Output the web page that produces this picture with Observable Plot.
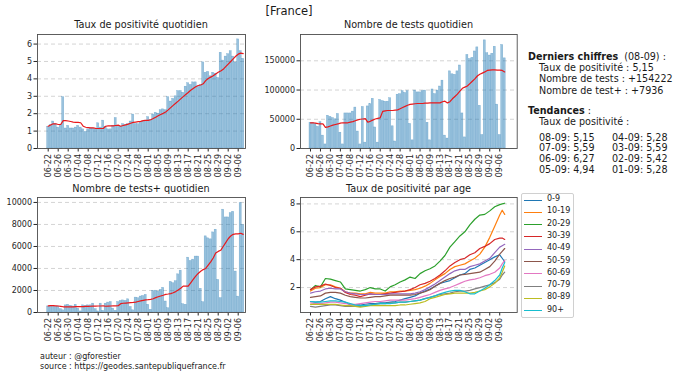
<!DOCTYPE html>
<html><head><meta charset="utf-8">
<script src="https://cdn.jsdelivr.net/npm/d3@7"></script>
<script src="https://cdn.jsdelivr.net/npm/@observablehq/plot@0.6"></script>
<style>
body{margin:0;background:#fff;}
#root{position:relative;width:680px;height:377px;font-family:"DejaVu Sans",sans-serif;color:#1a1a1a;overflow:hidden;background:#fff}
.t{position:absolute;white-space:nowrap;line-height:1}
.ttl{position:absolute;text-align:center;font-size:9.7px;line-height:1;white-space:nowrap}
.blk{font-size:9.6px}
.leg{position:absolute;left:521px;top:193px;width:51px;height:123px;border:1px solid #d0d0d0;border-radius:2px;background:#fff}
.leg .sw{position:absolute;left:2px;width:18px;height:0;border-top:1.4px solid}
.leg .lb{position:absolute;left:25px;font-size:8px;line-height:1}
</style></head><body><div id="root"></div>
<script>
const dates = ["06-22","06-23","06-24","06-25","06-26","06-27","06-28","06-29","06-30",
"07-01","07-02","07-03","07-04","07-05","07-06","07-07","07-08","07-09","07-10",
"07-11","07-12","07-13","07-14","07-15","07-16","07-17","07-18","07-19","07-20",
"07-21","07-22","07-23","07-24","07-25","07-26","07-27","07-28","07-29","07-30","07-31",
"08-01","08-02","08-03","08-04","08-05","08-06","08-07","08-08","08-09","08-10",
"08-11","08-12","08-13","08-14","08-15","08-16","08-17","08-18","08-19","08-20",
"08-21","08-22","08-23","08-24","08-25","08-26","08-27","08-28","08-29","08-30","08-31",
"09-01","09-02","09-03","09-04","09-05","09-06","09-07","09-08"];
const xTicks = ["06-22","06-26","06-30","07-04","07-08","07-12","07-16","07-20","07-24","07-28",
"08-01","08-05","08-09","08-13","08-17","08-21","08-25","08-29","09-02","09-06"];

// Taux de positivité quotidien (%)
const positivite = [1.25,1.35,1.55,1.4,1.2,1.35,2.95,1.15,1.3,
1.15,1.15,1.2,1.3,1.2,1.1,0.95,1.1,1.15,1.15,
1.1,1.45,1.2,1.6,1.25,1.1,1.1,1.3,1.75,1.3,
1.25,1.4,1.35,1.4,1.55,1.95,1.4,1.4,1.5,1.55,1.6,
1.8,1.65,1.95,2.05,2.0,2.2,2.25,2.2,2.95,2.7,
2.85,3.0,3.3,3.3,3.2,3.55,3.75,3.65,3.8,3.8,
3.55,3.65,4.95,4.35,4.4,4.15,4.35,4.3,4.05,5.5,5.05,
5.28,5.42,5.59,5.28,4.94,6.27,5.59,5.15];
const positiviteMoy = [1.28,1.35,1.42,1.42,1.38,1.38,1.6,1.6,1.58,
1.55,1.52,1.5,1.5,1.48,1.28,1.22,1.2,1.18,1.18,
1.16,1.15,1.15,1.15,1.28,1.3,1.3,1.3,1.32,1.34,
1.28,1.32,1.36,1.4,1.45,1.5,1.52,1.54,1.56,1.6,1.62,
1.62,1.65,1.72,1.8,1.88,1.95,2.02,2.1,2.22,2.35,
2.48,2.6,2.72,2.85,2.98,3.1,3.22,3.35,3.45,3.55,
3.62,3.65,3.72,3.9,4.02,4.1,4.18,4.28,4.38,4.45,4.55,
4.7,4.85,5.0,5.15,5.3,5.42,5.48,5.45];

// Nombre de tests quotidien
const tests = [44000,44000,42000,37000,45000,22000,7000,56000,54000,
52000,50000,59000,27000,7000,60000,60000,60000,63000,70000,
29000,7000,71000,10000,72000,76000,85000,36000,10000,83000,
81000,80000,80000,86000,38000,12000,92000,93000,98000,95000,98000,
42000,14000,99000,96000,96000,98000,99000,44000,14000,101000,
93000,99000,106000,116000,22000,17000,132000,127000,126000,132000,
142000,60000,19000,160000,153000,155000,166000,173000,73000,23000,185000,
163000,159000,162000,174000,75000,23000,177000,154222];
const testsMoy = [44000,44000,43500,42500,42000,42000,36000,37000,38500,
40000,41000,42000,43500,44000,44000,44000,45000,46000,47500,
49000,50000,50500,51000,45000,46500,48500,50500,51500,52500,
63500,64500,65000,65000,65000,65500,66000,68000,70000,72000,74000,
75500,76000,76500,77000,77000,77000,77500,77500,78000,78000,
78000,78000,78000,80000,81000,78000,80000,85000,89000,93000,
98000,103000,105000,107000,111000,115000,119000,124000,127000,129000,131000,
133500,134000,134500,134500,134000,134000,133500,131000];

// Nombre de tests+ quotidien
const positifs = [550,600,600,500,550,300,200,650,700,
600,550,700,350,100,650,600,650,650,800,
300,100,800,150,800,900,950,350,150,950,
1050,1100,1050,1200,500,200,1350,1300,1450,1500,1600,
700,240,1960,1980,1900,2050,2240,1000,390,2780,
2660,2840,3470,3800,750,700,4980,4680,4800,5080,
5080,2150,940,6920,6740,6650,7280,7520,2960,1300,9340,
8640,8640,9030,9150,3720,1440,9940,7936];
const positifsMoy = [600,620,630,610,590,560,520,520,520,
520,520,530,540,540,540,550,560,570,580,
580,590,590,600,570,580,590,600,610,620,
800,840,860,880,900,920,950,1000,1050,1100,1150,
1170,1200,1250,1350,1430,1500,1570,1650,1680,1720,
1800,1900,2050,2200,2400,2400,2400,2700,3000,3300,
3550,3750,3900,4000,4300,4600,4950,5400,5550,5650,6000,
6350,6700,6950,7100,7150,7150,7200,7100];

// Taux de positivité par age
const ages = ["0-9","10-19","20-29","30-39","40-49","50-59","60-69","70-79","80-89","90+"];
const ageColors = ["#1f77b4","#ff7f0e","#2ca02c","#d62728","#9467bd","#8c564b","#e377c2","#7f7f7f","#bcbd22","#17becf"];
const ageDates = ["06-22","06-24","06-26","06-28","06-30","07-02","07-04","07-06","07-08","07-10",
"07-12","07-14","07-16","07-18","07-20","07-22","07-24","07-26","07-28","07-30",
"08-01","08-03","08-05","08-07","08-09","08-11","08-13","08-15","08-17","08-19",
"08-21","08-23","08-25","08-27","08-29","08-31","09-02","09-04","09-06","09-07","09-08"];
const age0_9 = [1.0,0.95,1.0,1.2,1.35,1.2,1.1,0.95,0.75,0.75,0.75,0.8,0.85,0.85,0.9,0.9,0.95,1.0,1.1,1.2,1.3,1.4,1.6,1.75,1.9,2.1,2.3,2.4,2.5,2.7,2.9,3.0,3.3,3.4,3.6,3.8,4.0,4.2,4.35,4.1,3.85];
const age10_19 = [1.75,1.95,2.0,2.2,2.2,2.05,1.95,1.7,1.6,1.6,1.55,1.55,1.65,1.6,1.6,1.6,1.7,1.7,1.75,1.75,1.8,1.85,1.95,2.1,2.3,2.55,2.8,3.0,3.3,3.5,3.6,3.7,3.9,4.1,4.4,4.9,5.6,6.4,7.2,7.55,7.25];
const age20_29 = [1.85,2.15,2.05,2.65,2.6,2.5,2.4,1.9,1.85,1.8,1.75,1.85,2.0,1.9,1.9,1.75,2.05,2.2,2.4,2.55,2.75,2.65,3.0,3.2,3.35,3.55,3.9,4.3,4.9,5.3,5.7,6.0,6.5,6.9,7.2,7.25,7.5,7.8,7.95,8.0,8.05];
const age30_39 = [1.85,2.05,2.1,2.25,2.15,2.0,1.95,1.65,1.5,1.45,1.35,1.45,1.55,1.5,1.5,1.55,1.6,1.65,1.7,1.75,1.85,2.0,2.2,2.3,2.45,2.65,2.9,3.2,3.55,3.8,4.0,4.1,4.35,4.5,4.8,4.95,5.15,5.45,5.55,5.55,5.45];
const age40_49 = [1.6,1.7,1.75,1.9,1.95,1.9,1.9,1.7,1.6,1.55,1.5,1.5,1.55,1.5,1.5,1.5,1.55,1.55,1.55,1.55,1.55,1.6,1.7,1.85,2.05,2.25,2.5,2.75,3.0,3.2,3.3,3.3,3.5,3.6,3.7,3.9,4.1,4.5,4.9,5.0,5.1];
const age50_59 = [1.3,1.35,1.4,1.6,1.65,1.65,1.6,1.45,1.35,1.3,1.25,1.25,1.3,1.35,1.35,1.4,1.45,1.45,1.45,1.45,1.45,1.5,1.6,1.7,1.85,2.1,2.3,2.5,2.65,2.75,2.9,2.95,3.0,3.05,3.1,3.3,3.5,3.9,4.4,4.6,4.8];
const age60_69 = [0.9,0.85,0.85,0.9,0.95,0.95,0.9,0.85,0.8,0.8,0.85,0.9,0.95,1.0,1.0,1.05,1.1,1.1,1.1,1.1,1.15,1.2,1.3,1.4,1.5,1.65,1.8,1.9,2.0,2.15,2.3,2.45,2.55,2.6,2.7,2.85,2.95,3.1,3.4,3.7,3.95];
const age70_79 = [0.65,0.6,0.65,0.7,0.75,0.75,0.7,0.65,0.65,0.65,0.65,0.7,0.75,0.8,0.85,0.85,0.9,0.9,0.95,0.95,1.0,1.05,1.1,1.2,1.3,1.4,1.5,1.55,1.6,1.7,1.75,1.75,1.8,1.9,2.0,2.1,2.2,2.35,2.6,2.9,3.1];
const age80_89 = [0.8,0.8,0.8,0.8,0.8,0.8,0.75,0.7,0.7,0.65,0.6,0.65,0.7,0.7,0.7,0.7,0.7,0.7,0.75,0.75,0.8,0.85,0.9,1.0,1.2,1.3,1.4,1.5,1.55,1.6,1.6,1.6,1.6,1.65,1.75,1.85,2.05,2.3,2.7,3.1,3.55];
const age90p = [1.0,0.95,0.95,1.0,1.05,1.05,1.0,0.95,0.85,0.75,0.7,0.7,0.75,0.8,0.85,0.85,0.85,0.9,0.95,0.95,1.0,1.05,1.1,1.2,1.3,1.4,1.55,1.65,1.75,1.8,1.8,1.7,1.55,1.55,1.75,1.95,2.2,2.5,2.9,3.4,3.8];
const ageSeries = [age0_9,age10_19,age20_29,age30_39,age40_49,age50_59,age60_69,age70_79,age80_89,age90p];

const root = document.getElementById("root");
const rows = (vals) => dates.map((d, i) => ({date: d, v: vals[i]}));

function panel(o) {
  const p = Plot.plot({
    width: o.width, height: o.height,
    marginLeft: o.mL, marginRight: o.mR, marginTop: o.mT, marginBottom: o.mB,
    style: {fontFamily: '"DejaVu Sans", sans-serif', fontSize: "8px", color: "#262626", background: "transparent", overflow: "visible"},
    x: {type: "band", domain: dates, paddingInner: 0.2, paddingOuter: 0, insetLeft: o.inL, insetRight: o.inR,
        ticks: xTicks, tickRotate: -90, tickSize: 3.5, tickPadding: 2, label: null},
    y: {domain: o.yDomain, ticks: o.yTicks, tickSize: 3.5, tickPadding: 2, label: null, tickFormat: d => String(d)},
    color: {domain: ages, range: ageColors},
    marks: [
      Plot.ruleY(o.yTicks, {stroke: "#cfcfcf", strokeWidth: 0.9, strokeDasharray: "4,3"}),
      ...o.marks,
      Plot.frame({stroke: "#4d4d4d", strokeWidth: 0.9})
    ]
  });
  p.style.position = "absolute";
  p.style.left = o.left + "px";
  p.style.top = o.top + "px";
  root.appendChild(p);
}
const barStyle = {fill: "#1f77b4", fillOpacity: 0.45, stroke: "#1f77b4", strokeOpacity: 0.45, strokeWidth: 0.5};
const lineStyle = {stroke: "#e8191c", strokeWidth: 1.2};

const L = {left: 0, width: 260, mL: 37, mR: 15, inL: 9.7, inR: 1.3};
const R = {left: 260, width: 260, mL: 40, mR: 3.3, inL: 9, inR: 11.5};
const T = {top: 30, height: 160, mT: 4, mB: 42};
const B = {top: 193, height: 160, mT: 4, mB: 41};

panel({...L, ...T, yDomain: [0, 6.55], yTicks: [0,1,2,3,4,5,6], marks: [
  Plot.barY(rows(positivite), {x: "date", y: "v", ...barStyle}),
  Plot.line(rows(positiviteMoy), {x: "date", y: "v", ...lineStyle})
]});
panel({...R, ...T, yDomain: [0, 195000], yTicks: [0,50000,100000,150000], marks: [
  Plot.barY(rows(tests), {x: "date", y: "v", ...barStyle}),
  Plot.line(rows(testsMoy), {x: "date", y: "v", ...lineStyle})
]});
panel({...L, ...B, yDomain: [0, 10450], yTicks: [0,2000,4000,6000,8000,10000], marks: [
  Plot.barY(rows(positifs), {x: "date", y: "v", ...barStyle}),
  Plot.line(rows(positifsMoy), {x: "date", y: "v", ...lineStyle})
]});
const ageRows = ages.flatMap((a, k) => ageDates.map((d, i) => ({date: d, v: ageSeries[k][i], age: a})));
panel({...R, ...B, yDomain: [0.21, 8.46], yTicks: [2,4,6,8], marks: [
  Plot.line(ageRows, {x: "date", y: "v", stroke: "age", strokeWidth: 1.2})
]});

function txt(html, left, top, cls, extra) {
  const d = document.createElement("div");
  d.className = cls || "t";
  d.style.left = left + "px"; d.style.top = top + "px";
  if (extra) Object.assign(d.style, extra);
  d.innerHTML = html;
  root.appendChild(d);
  return d;
}
// titles
txt("[France]", 240, 6, "t", {fontSize: "11.5px", width: "98px", textAlign: "center"});
txt("Taux de positivité quotidien", 37, 19.5, "ttl", {width: "208px"});
txt("Nombre de tests quotidien", 300, 19.5, "ttl", {width: "217px"});
txt("Nombre de tests+ quotidien", 37, 183.5, "ttl", {width: "208px"});
txt("Taux de positivité par age", 300, 183.5, "ttl", {width: "217px"});

// info block
const fs = {fontSize: "9.6px"};
txt("<b>Derniers chiffres</b>&nbsp;&nbsp;(08-09) :", 528, 51.5, "t", fs);
txt("Taux de positivité : 5,15", 539, 62.5, "t", fs);
txt("Nombre de tests : +154222", 539, 74, "t", fs);
txt("Nombre de test+ : +7936", 539, 85.5, "t", fs);
txt("<b>Tendances</b> :", 528, 106, "t", fs);
txt("Taux de positivité :", 539, 117, "t", fs);
const trendDates = ["08-09","07-09","06-09","05-09","04-09","03-09","02-09","01-09"];
const trendVals = ["5,15","5,59","6,27","4,94","5,28","5,59","5,42","5,28"];
trendDates.forEach((d, i) => {
  const col = Math.floor(i / 4), r = i % 4;
  txt(d + ": " + trendVals[i], col ? 612 : 539, 132.5 + r * 10.8, "t", fs);
});

// legend
const leg = document.createElement("div");
leg.className = "leg";
ages.forEach((a, i) => {
  const y = 5.5 + i * 12.3;
  const s = document.createElement("div");
  s.className = "sw"; s.style.top = y + "px"; s.style.borderTopColor = ageColors[i];
  leg.appendChild(s);
  const l = document.createElement("div");
  l.className = "lb"; l.style.top = (y - 4.5) + "px"; l.textContent = a;
  leg.appendChild(l);
});
root.appendChild(leg);

// footer
txt("auteur : @gforestier", 40, 352.5, "t", {fontSize: "8px"});
txt("source : https://geodes.santepubliquefrance.fr", 40, 362.5, "t", {fontSize: "8px"});
</script></body></html>
